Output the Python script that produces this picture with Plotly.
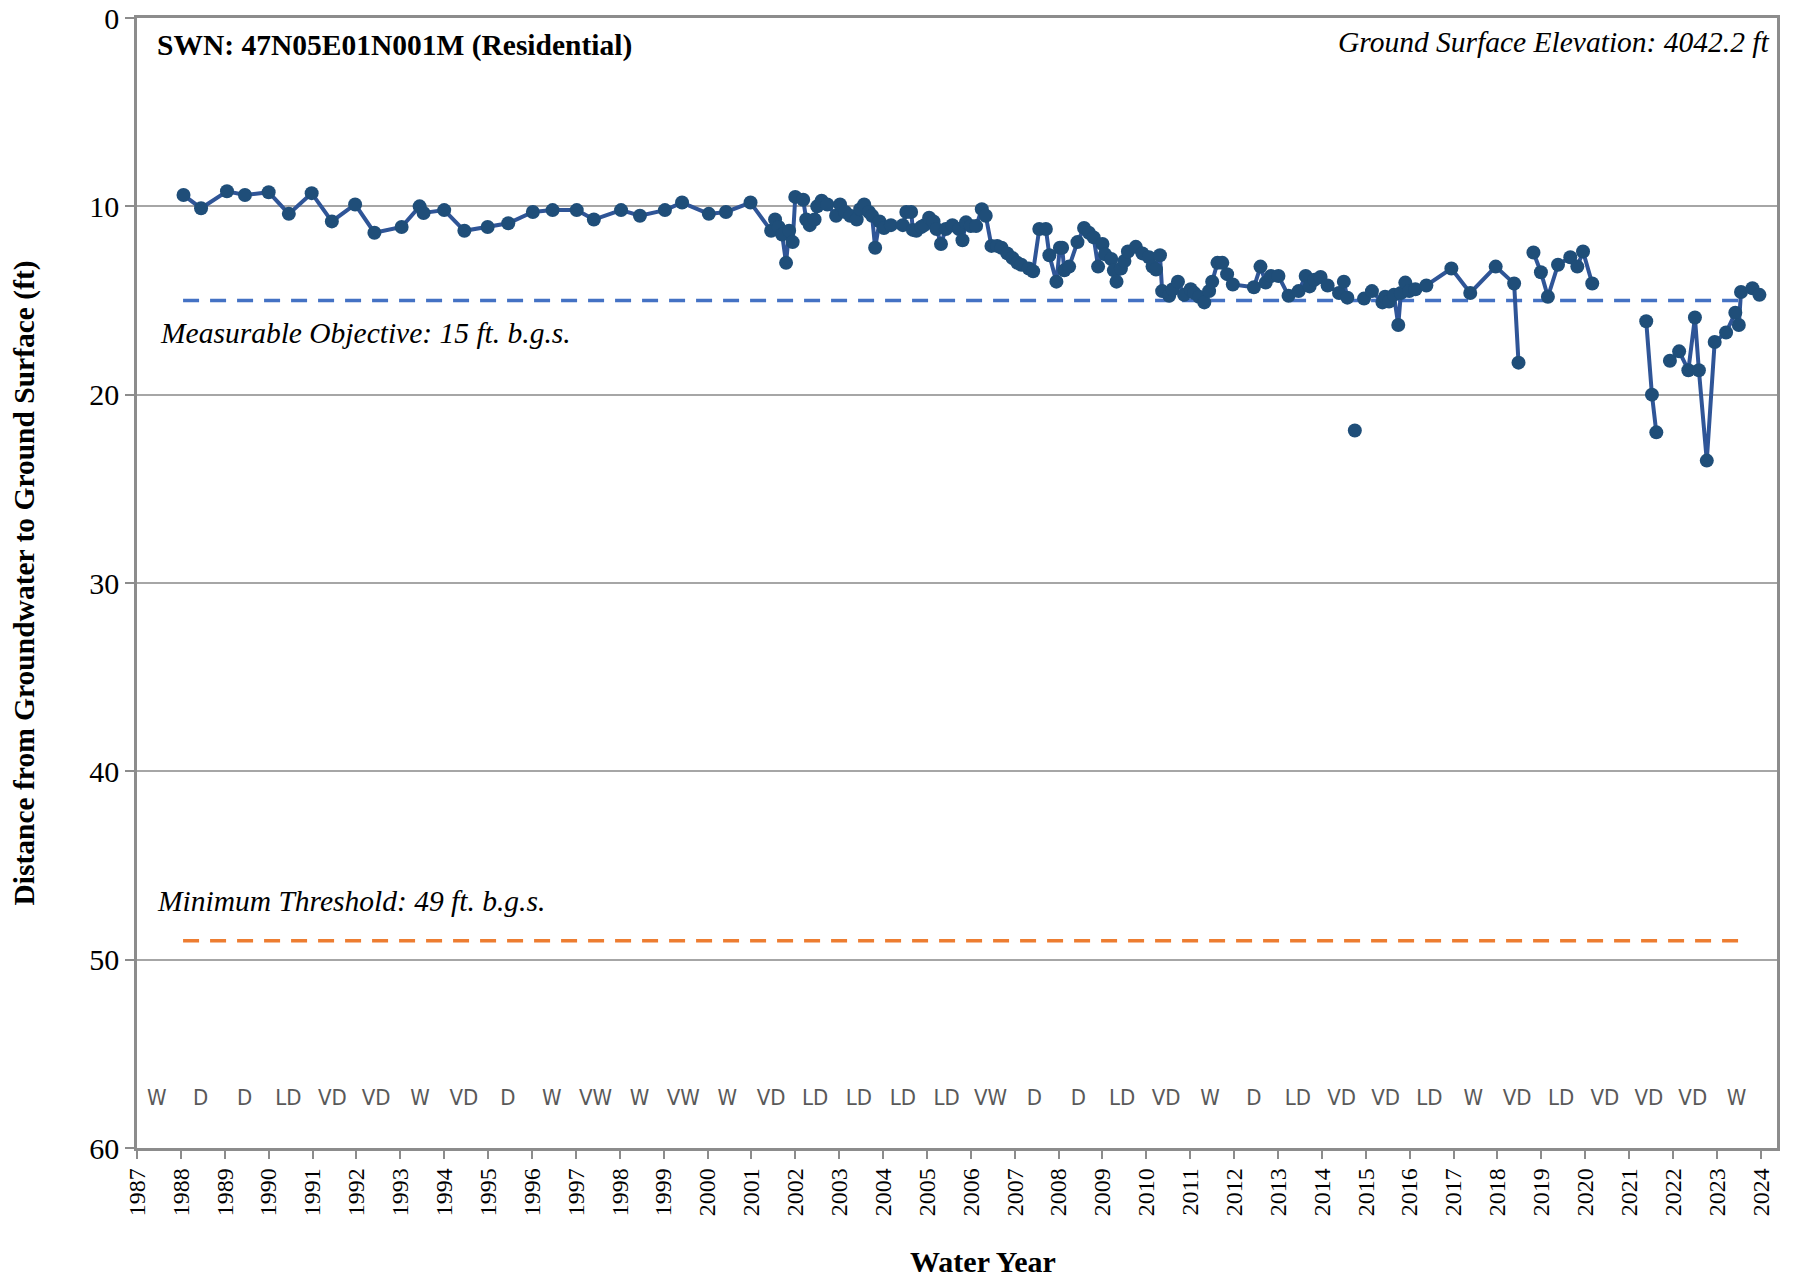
"""
Hydrograph for well 47N05E01N001M (Residential).

Depth to groundwater by water year, with sustainability thresholds
and water-year type labels along the bottom of the plot.
"""

import plotly.graph_objects as go

# Measurements: decimal water year and depth below ground surface (ft).
# None entries break the line where the record has gaps.
years = [
    1988.06, 1988.46, 1989.05, 1989.46, 1990.00, 1990.46, 1990.98, 1991.44,
    1991.97, 1992.41, 1993.03, 1993.44, 1993.53, 1994.00, 1994.46, 1994.99,
    1995.46, 1996.02, 1996.47, 1997.02, 1997.41, 1998.03, 1998.46, 1999.03,
    1999.42, 2000.03, 2000.42, 2000.98, 2001.45, 2001.54, 2001.62, 2001.70,
    2001.79, 2001.86, 2001.94, 2002.00, 2002.18, 2002.25, 2002.33, 2002.44,
    2002.50, 2002.60, 2002.73, 2002.93, 2003.02, 2003.14, 2003.25, 2003.40,
    2003.48, 2003.57, 2003.68, 2003.75, 2003.82, 2003.92, 2004.02, 2004.18,
    2004.45, 2004.53, 2004.64, 2004.68, 2004.76, 2004.87, 2004.94, 2005.05,
    2005.15, 2005.22, 2005.32, 2005.43, 2005.58, 2005.73, 2005.81, 2005.89,
    2006.00, 2006.12, 2006.25, 2006.34, 2006.47, 2006.60, 2006.70, 2006.83,
    2006.95, 2007.06, 2007.15, 2007.32, 2007.42, 2007.56, 2007.71, 2007.79,
    2007.95, 2008.03, 2008.08, 2008.13, 2008.24, 2008.43, 2008.58, 2008.69,
    2008.80, 2008.90, 2009.00, 2009.06, 2009.20, 2009.26, 2009.32, 2009.42,
    2009.50, 2009.58, 2009.76, 2009.91, 2010.06, 2010.14, 2010.22, 2010.31,
    2010.36, 2010.52, 2010.60, 2010.72, 2010.86, 2011.01, 2011.09, 2011.20,
    2011.32, 2011.43, 2011.50, 2011.62, 2011.73, 2011.84, 2011.97, 2012.45,
    2012.60, 2012.72, 2012.84, 2013.01, 2013.24, 2013.47, 2013.63, 2013.72,
    2013.83, 2013.97, 2014.13, 2014.39, 2014.50, 2014.58, None, 2014.75,
    None, 2014.96, 2015.14, 2015.38, 2015.44, 2015.53, 2015.64, 2015.74,
    2015.80, 2015.90, 2015.99, 2016.13, 2016.38, 2016.95, 2017.38, 2017.96,
    2018.38, 2018.48, None, 2018.82, 2018.99, 2019.15, 2019.38, 2019.66,
    2019.82, 2019.95, 2020.16, None, 2021.39, 2021.52, 2021.62, None,
    2021.93, 2022.14, 2022.35, 2022.50, 2022.59, 2022.77, 2022.95, 2023.21,
    2023.42, 2023.50, 2023.55, 2023.81, 2023.97,
]
depth_ft = [
    9.4, 10.1, 9.2, 9.4, 9.25, 10.4, 9.3, 10.8,
    9.9, 11.4, 11.1, 10.0, 10.35, 10.2, 11.3, 11.1,
    10.9, 10.3, 10.2, 10.2, 10.7, 10.2, 10.5, 10.2,
    9.8, 10.4, 10.3, 9.8, 11.3, 10.7, 11.1, 11.5,
    13.0, 11.3, 11.9, 9.5, 9.65, 10.7, 11.0, 10.7,
    10.0, 9.7, 9.9, 10.5, 9.9, 10.3, 10.5, 10.7,
    10.15, 9.9, 10.3, 10.5, 12.2, 10.8, 11.15, 11.0,
    11.0, 10.3, 10.3, 11.25, 11.3, 11.1, 11.0, 10.6,
    10.8, 11.2, 12.0, 11.2, 11.0, 11.2, 11.8, 10.85,
    11.05, 11.05, 10.15, 10.5, 12.1, 12.1, 12.2, 12.5,
    12.75, 13.0, 13.1, 13.3, 13.45, 11.2, 11.2, 12.6,
    14.0, 12.2, 12.2, 13.4, 13.2, 11.9, 11.15, 11.4,
    11.65, 13.2, 12.0, 12.55, 12.8, 13.4, 14.0, 13.3,
    12.9, 12.4, 12.15, 12.5, 12.7, 13.2, 13.35, 12.6,
    14.5, 14.75, 14.4, 14.0, 14.7, 14.4, 14.6, 14.8,
    15.1, 14.5, 14.0, 13.0, 13.0, 13.6, 14.15, 14.3,
    13.2, 14.05, 13.7, 13.7, 14.75, 14.5, 13.7, 14.25,
    13.9, 13.75, 14.2, 14.6, 14.0, 14.85, None, 21.9,
    None, 14.9, 14.5, 15.1, 14.8, 15.05, 14.7, 16.3,
    14.6, 14.05, 14.5, 14.4, 14.2, 13.3, 14.6, 13.2,
    14.1, 18.3, None, 12.45, 13.5, 14.8, 13.1, 12.7,
    13.2, 12.4, 14.1, None, 16.1, 20.0, 22.0, None,
    18.2, 17.7, 18.7, 15.9, 18.7, 23.5, 17.2, 16.7,
    15.65, 16.3, 14.55, 14.35, 14.7,
]

# Sustainability thresholds (ft below ground surface)
measurable_objective = 15
minimum_threshold = 49
threshold_years = [1988.05, 2023.5]

# Water-year types, one per water year
wy_years = list(range(1987, 2024))
wy_types = [
    "W", "D", "D", "LD", "VD", "VD", "W", "VD", "D", "W", "VW", "W", "VW",
    "W", "VD", "LD", "LD", "LD", "LD", "VW", "D", "D", "LD", "VD", "W", "D",
    "LD", "VD", "VD", "LD", "W", "VD", "LD", "VD", "VD", "VD", "W",
]
wy_label_depth = 57.4

# Axis ticks
x_ticks = list(range(1987, 2025))
y_ticks = [0, 10, 20, 30, 40, 50, 60]

SERIF = "Liberation Serif, Times New Roman, serif"
AXIS_GREY = "#8C8C8C"

fig = go.Figure()

# Threshold lines
fig.add_trace(go.Scatter(
    x=threshold_years,
    y=[measurable_objective] * 2,
    mode="lines",
    line=dict(color="#4472C4", width=3.5, dash="16px,11px"),
    hoverinfo="skip",
    showlegend=False,
))
fig.add_trace(go.Scatter(
    x=threshold_years,
    y=[minimum_threshold] * 2,
    mode="lines",
    line=dict(color="#ED7D31", width=3.5, dash="16px,11px"),
    hoverinfo="skip",
    showlegend=False,
))

# Groundwater levels
fig.add_trace(go.Scatter(
    x=years,
    y=depth_ft,
    mode="lines+markers",
    line=dict(color="#2F5597", width=4),
    marker=dict(color="#1F4E79", size=14),
    connectgaps=False,
    hovertemplate="%{x:.2f}: %{y:.1f} ft<extra></extra>",
    showlegend=False,
))

# Water-year type labels
fig.add_trace(go.Scatter(
    x=[y + 0.45 for y in wy_years],
    y=[wy_label_depth] * len(wy_years),
    mode="text",
    text=wy_types,
    textfont=dict(family="Liberation Sans Narrow, DejaVu Sans Condensed, sans-serif",
                  size=22, color="#595959"),
    hoverinfo="skip",
    showlegend=False,
))

# Text annotations
fig.add_annotation(
    text="<b>SWN: 47N05E01N001M (Residential)</b>",
    xref="paper", yref="paper", x=0.0107, y=0.9755,
    xanchor="left", yanchor="middle", showarrow=False,
    font=dict(family=SERIF, size=29.5, color="black"),
)
fig.add_annotation(
    text="<i>Ground Surface Elevation: 4042.2 ft</i>",
    xref="paper", yref="paper", x=0.9963, y=0.9787,
    xanchor="right", yanchor="middle", showarrow=False,
    font=dict(family=SERIF, size=29.5, color="black"),
)
fig.add_annotation(
    text=f"<i>Measurable Objective: {measurable_objective} ft. b.g.s.</i>",
    x=1987.47, y=16.75, xanchor="left", yanchor="middle", showarrow=False,
    font=dict(family=SERIF, size=29.5, color="black"),
)
fig.add_annotation(
    text=f"<i>Minimum Threshold: {minimum_threshold} ft. b.g.s.</i>",
    x=1987.4, y=46.9, xanchor="left", yanchor="middle", showarrow=False,
    font=dict(family=SERIF, size=29.5, color="black"),
)
fig.add_annotation(
    text="<b>Distance from Groundwater to Ground Surface (ft)</b>",
    xref="paper", yref="paper", x=-0.0686, y=0.5,
    xanchor="center", yanchor="middle", textangle=-90, showarrow=False,
    font=dict(family=SERIF, size=29.5, color="black"),
)
fig.add_annotation(
    text="<b>Water Year</b>",
    xref="paper", yref="paper", x=0.516, y=-0.1005,
    xanchor="center", yanchor="middle", showarrow=False,
    font=dict(family=SERIF, size=30, color="black"),
)

fig.update_layout(
    width=1797,
    height=1281,
    margin=dict(l=137, r=20, t=18, b=133),
    paper_bgcolor="white",
    plot_bgcolor="white",
    font=dict(family=SERIF, color="black"),
    showlegend=False,
    xaxis=dict(
        range=[1987, 2024.37],
        tickmode="array",
        tickvals=x_ticks,
        ticktext=[str(t) for t in x_ticks],
        tickangle=-90,
        tickfont=dict(family=SERIF, size=24, color="black"),
        ticks="outside",
        ticklen=8,
        tickwidth=2,
        tickcolor=AXIS_GREY,
        showline=True,
        linecolor=AXIS_GREY,
        linewidth=2.5,
        mirror=True,
        showgrid=False,
        zeroline=False,
        automargin=False,
    ),
    yaxis=dict(
        range=[60, 0],
        tickmode="array",
        tickvals=y_ticks,
        tickfont=dict(family=SERIF, size=30, color="black"),
        ticks="outside",
        ticklen=9,
        tickwidth=2,
        tickcolor=AXIS_GREY,
        showline=True,
        linecolor=AXIS_GREY,
        linewidth=2.5,
        mirror=True,
        showgrid=True,
        gridcolor="#A6A6A6",
        gridwidth=1.5,
        zeroline=False,
        automargin=False,
    ),
)

# Drop the default page margin so the figure fills the window exactly
fig.write_html(
    "out.html",
    config={"displayModeBar": False},
    post_script="document.body.style.margin = '0';",
)
